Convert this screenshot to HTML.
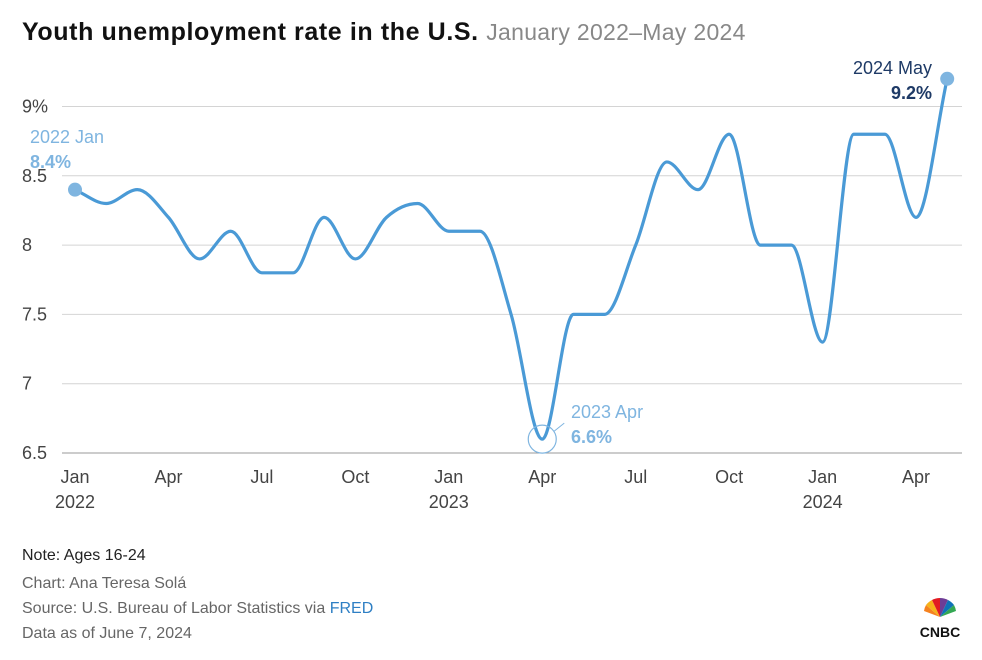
<!DOCTYPE html>
<html><head><meta charset="utf-8">
<style>
body{margin:0;background:#fff;width:982px;height:655px;overflow:hidden;font-family:"Liberation Sans",Arial,sans-serif;}
svg text{font-family:"Liberation Sans",Arial,sans-serif;}
</style></head>
<body>
<svg id="chart" width="982" height="655">
<text x="22" y="40" font-size="25" font-weight="bold" fill="#111" letter-spacing="0.6">Youth unemployment rate in the U.S. <tspan font-weight="normal" fill="#888" font-size="23" letter-spacing="0.3">January 2022–May 2024</tspan></text>
<g id="grid"></g><g id="xaxis"></g>
<path id="line" fill="none" stroke="#4a9ad6" stroke-width="3.2"/>
<g id="marks"></g>
<text x="22" y="560" font-size="16" fill="#222">Note: Ages 16-24</text>
<text x="22" y="588" font-size="16" fill="#666">Chart: Ana Teresa Solá</text>
<text x="22" y="613" font-size="16" fill="#666">Source: U.S. Bureau of Labor Statistics via <tspan fill="#2e7fc4">FRED</tspan></text>
<text x="22" y="638" font-size="16" fill="#666">Data as of June 7, 2024</text>
<g>
<g transform="translate(940,617)">
<path d="M0,0 L-16,-6 A17,17 0 0 1 -14,-12Z" fill="#f5821f"/>
<path d="M0,0 L-14,-12 A17,17 0 0 1 -8,-17Z" fill="#f6b21a"/>
<path d="M0,0 L-8,-17 A17,17 0 0 1 0,-19Z" fill="#e21b22"/>
<path d="M0,0 L0,-19 A17,17 0 0 1 8,-17Z" fill="#6e3c96"/>
<path d="M0,0 L8,-17 A17,17 0 0 1 14,-12Z" fill="#0f72b8"/>
<path d="M0,0 L14,-12 A17,17 0 0 1 16,-6Z" fill="#34a853"/>
</g>
<text x="940" y="637" font-size="14" font-weight="bold" fill="#111" text-anchor="middle">CNBC</text>
</g>
</svg>
<script>
const months=["Jan","Feb","Mar","Apr","May","Jun","Jul","Aug","Sep","Oct","Nov","Dec","Jan","Feb","Mar","Apr","May","Jun","Jul","Aug","Sep","Oct","Nov","Dec","Jan","Feb","Mar","Apr","May"];
const rates=[8.4,8.3,8.4,8.2,7.9,8.1,7.8,7.8,8.2,7.9,8.2,8.3,8.1,8.1,7.5,6.6,7.5,7.5,8.0,8.6,8.4,8.8,8.0,8.0,7.3,8.8,8.8,8.2,9.2];
const yTicks=[6.5,7,7.5,8,8.5,9];
const yTickLabels=["6.5","7","7.5","8","8.5","9%"];
const xTickIdx=[0,3,6,9,12,15,18,21,24,27];
const xYearIdx=[0,12,24];
const xYears=["2022","2023","2024"];
const X=i=>75+i*31.15;
const Y=v=>453-(v-6.5)*138.6;
const NS="http://www.w3.org/2000/svg";
function mk(t,a,p,txt){const e=document.createElementNS(NS,t);for(const k in a)e.setAttribute(k,a[k]);if(txt!=null)e.textContent=txt;p.appendChild(e);return e;}
const grid=document.getElementById('grid'),xa=document.getElementById('xaxis'),marks=document.getElementById('marks');
yTicks.forEach((v,i)=>{
 const l=mk('line',{x1:62,x2:962,y1:Y(v),y2:Y(v),stroke:v==6.5?'#999':'#d4d4d4','stroke-width':1},grid);
 
 
 const t=mk('text',{x:22,y:Y(v)+6,'font-size':18,fill:'#444'},grid,yTickLabels[i]);
 
 
});
xTickIdx.forEach(i=>{
 const t=mk('text',{x:X(i),y:483,'font-size':18,fill:'#444','text-anchor':'middle'},xa,months[i]);
 
 
});
xYearIdx.forEach((i,k)=>{
 const t=mk('text',{x:X(i),y:508,'font-size':18,fill:'#444','text-anchor':'middle'},xa,xYears[k]);
 
 
});
const px=rates.map((v,i)=>X(i)),py=rates.map(v=>Y(v)),n=px.length;
const d=[],m=[];
for(let i=0;i<n-1;i++)d.push((py[i+1]-py[i])/(px[i+1]-px[i]));
m[0]=d[0];m[n-1]=d[n-2];
for(let i=1;i<n-1;i++){if(d[i-1]*d[i]<=0)m[i]=0;else{m[i]=(d[i-1]+d[i])/2;const a=m[i]/d[i-1],b=m[i]/d[i],s=a*a+b*b;if(s>9){const t=3/Math.sqrt(s);m[i]=t*a*d[i-1];}}}
let p="M"+px[0]+","+py[0];
for(let i=0;i<n-1;i++){const h=(px[i+1]-px[i])/3;p+=` C${px[i]+h},${py[i]+m[i]*h} ${px[i+1]-h},${py[i+1]-m[i+1]*h} ${px[i+1]},${py[i+1]}`;}
document.getElementById('line').setAttribute('d',p);
const c0=mk('circle',{cx:X(0),cy:Y(rates[0]),r:7,fill:'#7fb5e0'},marks);


const cE=mk('circle',{cx:X(n-1),cy:Y(rates[n-1]),r:7,fill:'#7fb5e0'},marks);


const cM=mk('circle',{cx:X(15),cy:Y(rates[15]),r:14,fill:'none',stroke:'#7fb5e0','stroke-width':1.2},marks);


mk('line',{x1:X(15)+12,y1:Y(rates[15])-8,x2:X(15)+22,y2:Y(rates[15])-16,stroke:'#7fb5e0'},marks);
function lab(x,y,a,t1,t2,c1,c2,name){
 const t=mk('text',{x:x,y:y,'font-size':18,fill:c1,'text-anchor':a},marks,t1);
 
 
 const v=mk('text',{x:x,y:y+25,'font-size':18,'font-weight':'bold',fill:c2,'text-anchor':a},marks,t2);
 
 
}
lab(30,143,'start','2022 Jan',rates[0]+'%','#7fb5e0','#7fb5e0','start');
lab(571,418,'start','2023 Apr',rates[15]+'%','#7fb5e0','#7fb5e0','min');
lab(932,74,'end','2024 May',rates[n-1]+'%','#1e3a66','#1e3a66','end');
</script>
</body></html>
